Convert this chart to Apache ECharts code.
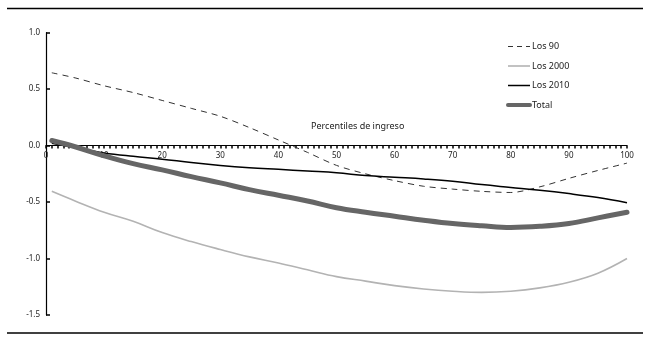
<!DOCTYPE html>
<html>
<head>
<meta charset="utf-8">
<script src="https://cdn.jsdelivr.net/npm/echarts@6/dist/echarts.min.js"></script>
<style>html,body{margin:0;padding:0;background:#fff}#c{width:645px;height:341px}</style>
</head>
<body>
<div id="c"></div>
<script>
var percentiles = [1,5,10,15,20,25,30,35,40,45,50,55,60,65,70,75,80,85,90,95,100];
var los90   = [0.645,0.60,0.53,0.47,0.40,0.33,0.26,0.16,0.05,-0.06,-0.175,-0.25,-0.31,-0.36,-0.385,-0.405,-0.415,-0.365,-0.29,-0.22,-0.155];
var los2000 = [-0.405,-0.49,-0.59,-0.67,-0.77,-0.85,-0.92,-0.985,-1.04,-1.10,-1.16,-1.20,-1.24,-1.27,-1.29,-1.30,-1.29,-1.26,-1.21,-1.13,-1.00];
var los2010 = [0.02,-0.02,-0.065,-0.095,-0.12,-0.15,-0.175,-0.195,-0.21,-0.225,-0.24,-0.265,-0.28,-0.295,-0.315,-0.345,-0.37,-0.395,-0.425,-0.46,-0.505];
var total   = [0.045,-0.01,-0.09,-0.16,-0.215,-0.275,-0.33,-0.39,-0.44,-0.49,-0.55,-0.59,-0.625,-0.66,-0.69,-0.71,-0.725,-0.715,-0.69,-0.64,-0.59];
var seriesNames = ['Los 90','Los 2000','Los 2010','Total'];
var yTicks = {min:-1.5, max:1.0, step:0.5};
var xTicks = {min:0, max:100, step:10};
var xAxisTitle = 'Percentiles de ingreso';

function pairs(arr){ return percentiles.map(function(p,i){ return [p, arr[i]]; }); }
var FONT = '"Noto Sans", "DejaVu Sans", sans-serif';
var styles = [
  {color:'#333', width:1, type:[6,5]},
  {color:'#b3b3b3', width:1.6, type:'solid'},
  {color:'#000', width:1.5, type:'solid'},
  {color:'#666', width:5, type:'solid', cap:'round'}
];
var legendStyles = [
  {color:'#333', width:1, type:[5,4]},
  {color:'#b3b3b3', width:1.6, type:'solid'},
  {color:'#000', width:1.5, type:'solid'},
  {color:'#666', width:4, type:'solid'}
];
var chart = echarts.init(document.getElementById('c'), null, {renderer:'canvas'});
var option = {
  animation:false,
  backgroundColor:'#fff',
  grid:{left:46, right:18, top:32.7, bottom:26, containLabel:false},
  legend:{
    orient:'vertical', left:501, top:37, itemWidth:22, itemHeight:10, itemGap:10.5,
    itemStyle:{color:'rgba(0,0,0,0)', borderWidth:0, opacity:0},
    textStyle:{fontFamily:FONT, fontSize:9, color:'#222', padding:[0,0,0,-3]},
    data:seriesNames.map(function(n,i){ return {name:n, lineStyle:legendStyles[i]}; })
  },
  xAxis:{
    type:'value', min:xTicks.min, max:xTicks.max, interval:xTicks.step,
    offset:0,
    axisLine:{onZero:false, lineStyle:{color:'#000', width:1.2}},
    axisTick:{show:true, inside:false, length:3, lineStyle:{color:'#000', width:1.5}},
    minorTick:{show:true, splitNumber:10, length:3, lineStyle:{color:'#000', width:1.5}},
    axisLabel:{fontFamily:FONT, fontSize:8, color:'#222', margin:6},
    splitLine:{show:false}
  },
  yAxis:{
    type:'value', min:yTicks.min, max:yTicks.max, interval:yTicks.step,
    axisLine:{show:true, lineStyle:{color:'#000', width:1.2}},
    axisTick:{show:true, inside:true, length:4, lineStyle:{color:'#000', width:1.5}},
    axisLabel:{fontFamily:FONT, fontSize:8, color:'#222', margin:6, formatter:function(v){return v.toFixed(1);}},
    splitLine:{show:false}
  },
  graphic:[
    {type:'line', shape:{x1:7,y1:8.5,x2:643,y2:8.5}, style:{stroke:'#000', lineWidth:1.3}},
    {type:'line', shape:{x1:7,y1:333,x2:643,y2:333}, style:{stroke:'#000', lineWidth:1.3}},
    {type:'text', left:311, top:122, style:{text:xAxisTitle, fontFamily:FONT, fontSize:9, fill:'#222'}}
  ],
  series:[los90, los2000, los2010, total].map(function(arr,i){
    return {name:seriesNames[i], type:'line', data:pairs(arr), symbol:'none', smooth:i===0?0.3:0.4,
      lineStyle:styles[i], itemStyle:{color:styles[i].color}};
  })
};
chart.setOption(option);
// place the x axis on the zero line of the y scale
var yZero = chart.convertToPixel({yAxisIndex:0}, 0);
var yBottom = chart.convertToPixel({yAxisIndex:0}, yTicks.min);
chart.setOption({xAxis:{offset:-(yBottom - yZero)}});
</script>
</body>
</html>
